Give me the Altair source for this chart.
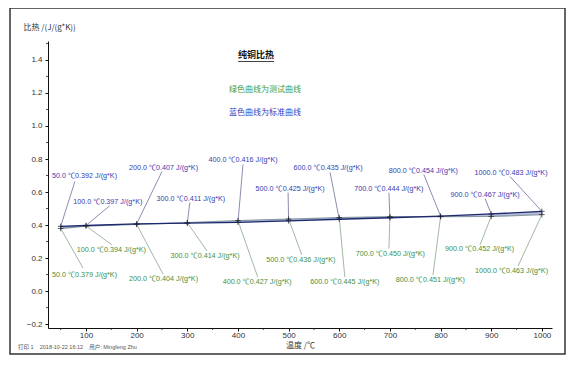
import altair as alt
import pandas as pd

# ---- data ----
temps = [50, 100, 200, 300, 400, 500, 600, 700, 800, 900, 1000]
std_vals = [0.392, 0.397, 0.407, 0.411, 0.416, 0.425, 0.435, 0.444, 0.454, 0.467, 0.483]
test_vals = [0.379, 0.394, 0.404, 0.414, 0.427, 0.436, 0.445, 0.450, 0.451, 0.452, 0.463]

# annotation anchors (data units)
std_lx = [97, 143, 253, 307, 410, 503, 578, 698, 766, 888, 939]
std_ly = [0.694, 0.542, 0.743, 0.560, 0.791, 0.621, 0.743, 0.621, 0.730, 0.584, 0.718]
std_ex = [78, 147, 250, 305, 410, 499, 582, 698, 767, 888, 937]
std_ey = [0.663, 0.517, 0.724, 0.536, 0.767, 0.596, 0.718, 0.596, 0.706, 0.560, 0.694]
test_lx = [97, 150, 253, 335, 438, 524, 611, 701, 780, 877, 940]
test_ly = [0.097, 0.250, 0.073, 0.213, 0.055, 0.189, 0.055, 0.225, 0.067, 0.256, 0.122]
test_ex = [94, 151, 252, 339, 439, 526, 611, 698, 785, 878, 953]
test_ey = [0.140, 0.280, 0.103, 0.243, 0.085, 0.219, 0.085, 0.256, 0.097, 0.280, 0.152]

x_ticks = [100, 200, 300, 400, 500, 600, 700, 800, 900, 1000]
x_minor = [50, 150, 250, 350, 450, 550, 650, 750, 850, 950]
y_ticks = [-0.2, 0.0, 0.2, 0.4, 0.6, 0.8, 1.0, 1.2, 1.4]
y_minor = [-0.1, 0.1, 0.3, 0.5, 0.7, 0.9, 1.1, 1.3, 1.5]

title_text = "纯铜比热"
note_green = "绿色曲线为测试曲线"
note_blue = "蓝色曲线为标准曲线"
footer_text = "打印 1\u00a0\u00a0\u00a0\u00a02018-10-22 16:12\u00a0\u00a0\u00a0\u00a0用户: Mingfeng Zhu"
x_title = "温度 /℃"
y_title = "比热 /(J/(g*K))"

FONT = "Liberation Sans, Arial, Noto Sans CJK SC"
CJK = "Noto Sans CJK SC"

W, H = 504, 287
xs = alt.Scale(domain=[25, 1020], nice=False, zero=False)
ys = alt.Scale(domain=[-0.224, 1.515], nice=False, zero=False)

xax = alt.Axis(values=x_ticks, format="d", title=x_title, titleX=252, titleY=17,
               titleFont=CJK, titleFontSize=8, titleFontWeight="normal",
               titleColor="#333", titleBaseline="middle", titleAlign="center",
               grid=False, labelPadding=0.5)
yax = alt.Axis(values=y_ticks, format=".1f", title=y_title, titleAngle=0,
               titleX=-25, titleY=-14, titleAlign="left",
               titleBaseline="middle", titleFont=CJK, titleFontSize=8,
               titleFontWeight="normal", titleColor="#333", labelPadding=3, grid=False)


def X(f):
    return alt.X(f, scale=xs, axis=xax)


def Y(f):
    return alt.Y(f, scale=ys, axis=yax)


def lab(t, v):
    return f"{t:.1f} ℃{v:.3f} J/(g*K)"


df = pd.DataFrame({
    "t": temps, "std": std_vals, "test": test_vals,
    "slx": std_lx, "sly": std_ly, "sex": std_ex, "sey": std_ey,
    "tlx": test_lx, "tly": test_ly, "tex": test_ex, "tey": test_ey,
    "slab": [lab(t, v) for t, v in zip(temps, std_vals)],
    "tlab": [lab(t, v) for t, v in zip(temps, test_vals)],
})

base = alt.Chart(df)

band = base.mark_area(color="#aeb4d6", opacity=0.9).encode(x=X("t:Q"), y=Y("std:Q"), y2="test:Q")
test_line = base.mark_line(color="#8a9aa8", strokeWidth=1.3).encode(x=X("t:Q"), y=Y("test:Q"))
std_line = base.mark_line(color="#1c2a6e", strokeWidth=1.3).encode(x=X("t:Q"), y=Y("std:Q"))

plus = "M-1,0L1,0M0,-1L0,1"
std_pts = base.mark_point(shape=plus, size=30, color="#1a1a3a", strokeWidth=1).encode(x=X("t:Q"), y=Y("std:Q"))
test_pts = base.mark_point(shape=plus, size=30, color="#1a1a1a", strokeWidth=1).encode(x=X("t:Q"), y=Y("test:Q"))

std_lead = base.mark_rule(color="#5a5a90", strokeWidth=0.7).encode(
    x=X("t:Q"), y=Y("std:Q"), x2="sex:Q", y2="sey:Q")
test_lead = base.mark_rule(color="#7a9a7a", strokeWidth=0.7).encode(
    x=X("t:Q"), y=Y("test:Q"), x2="tex:Q", y2="tey:Q")

std_txt = base.mark_text(font=FONT, fontSize=7.2, color="#3a3ab0", align="center", baseline="middle").encode(
    x=X("slx:Q"), y=Y("sly:Q"), text="slab:N")
test_txt = base.mark_text(font=FONT, fontSize=7.2, color="#3f8f3f", align="center", baseline="middle").encode(
    x=X("tlx:Q"), y=Y("tly:Q"), text="tlab:N")

xminor = alt.Chart(pd.DataFrame({"v": x_minor})).mark_rule(color="#222", strokeWidth=0.8).encode(
    x=X("v:Q"), y=alt.value(H), y2=alt.value(H + 2))
yminor = alt.Chart(pd.DataFrame({"v": y_minor})).mark_rule(color="#222", strokeWidth=0.8).encode(
    y=Y("v:Q"), x=alt.value(-2), x2=alt.value(0))

one = alt.Chart(pd.DataFrame({"a": [0]}))
title_mark = one.mark_text(font=CJK, fontSize=9, fontWeight="bold", color="#111").encode(
    x=alt.value(208), y=alt.value(14), text=alt.value(title_text))
underline = one.mark_rule(color="#111", strokeWidth=0.8).encode(
    x=alt.value(190), x2=alt.value(226), y=alt.value(20.5))
green_note = one.mark_text(font=CJK, fontSize=8, color="#3f9a3f").encode(
    x=alt.value(217), y=alt.value(49), text=alt.value(note_green))
blue_note = one.mark_text(font=CJK, fontSize=8, color="#3a3ac0").encode(
    x=alt.value(217), y=alt.value(72), text=alt.value(note_blue))
footer = one.mark_text(font=FONT, fontSize=5.5, color="#555", align="left").encode(
    x=alt.value(-30), y=alt.value(306), text=alt.value(footer_text))
frame = one.mark_rect(filled=False, stroke="#333", strokeWidth=1.5).encode(
    x=alt.value(-38), x2=alt.value(517), y=alt.value(-33), y2=alt.value(313))

chart = alt.layer(
    band, test_line, std_line, test_lead, std_lead, test_pts, std_pts,
    std_txt, test_txt, xminor, yminor, title_mark, underline, green_note, blue_note, footer, frame,
).properties(
    width=W, height=H,
    background="white",
    autosize=alt.AutoSizeParams(type="none"),
    padding={"left": 40, "top": 33, "right": 23, "bottom": 31},
).configure_axis(
    grid=False, domainColor="#111", tickColor="#111", tickSize=3, domainWidth=1,
    labelFont=FONT, labelFontSize=8, labelColor="#333",
).configure_view(stroke="white", strokeWidth=0, strokeOpacity=0)

chart.save("out.html", embed_options={"renderer": "svg", "actions": False})
